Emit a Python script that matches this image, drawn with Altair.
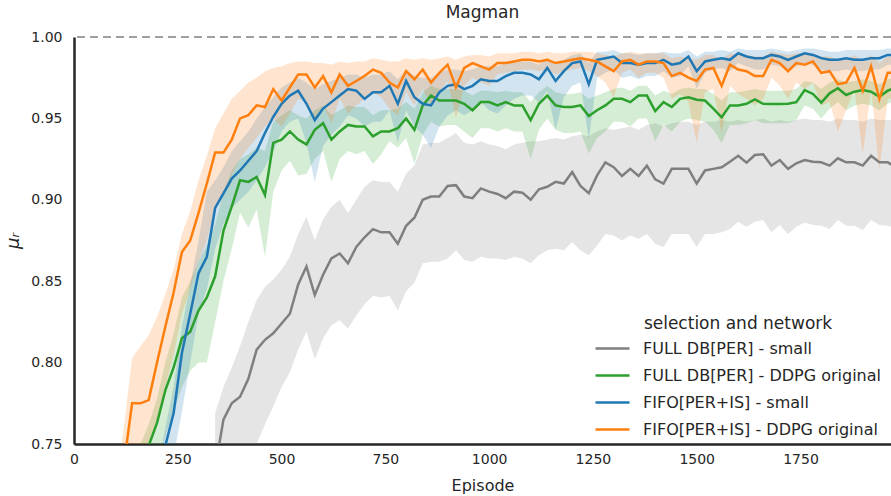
import altair as alt
import pandas as pd

# Evaluation grid (one point every 20 episodes)
EPISODES = list(range(0, 2000, 20))

SERIES_NAMES = [
    "FULL DB[PER] - small",
    "FULL DB[PER] - DDPG original",
    "FIFO[PER+IS] - small",
    "FIFO[PER+IS] - DDPG original",
]
SERIES_COLORS = ["#7f7f7f", "#2ca02c", "#1f77b4", "#ff7f0e"]

N = None

# ---- FULL DB[PER] - small (gray) ----
GRAY_MEAN = [
    N, N, N, N, N, N, N, N, N, N,
    N, N, N, N, N, N, N, 0.735, 0.765, 0.775,
    0.779, 0.790, 0.808, 0.814, 0.818, 0.824, 0.830, 0.848, 0.859, 0.8415,
    0.854, 0.864, 0.867, 0.861, 0.871, 0.877, 0.882, 0.880, 0.880, 0.873,
    0.884, 0.889, 0.900, 0.902, 0.902, 0.9085, 0.909, 0.902, 0.901, 0.907,
    0.905, 0.9036, 0.901, 0.905, 0.9044, 0.900, 0.9065, 0.908, 0.911, 0.910,
    0.917, 0.9085, 0.904, 0.915, 0.923, 0.920, 0.9146, 0.919, 0.9146, 0.921,
    0.9126, 0.910, 0.919, 0.919, 0.919, 0.910, 0.918, 0.919, 0.920, 0.9234,
    0.927, 0.9228, 0.9275, 0.928, 0.921, 0.9244, 0.919, 0.9224, 0.9244, 0.9234,
    0.923, 0.921, 0.9255, 0.923, 0.923, 0.921, 0.927, 0.923, 0.923, 0.920,
]
GRAY_LO = [
    N, N, N, N, N, N, N, N, N, N,
    N, N, N, N, N, N, N, 0.650, 0.680, 0.710,
    0.725, 0.738, 0.750, 0.762, 0.773, 0.785, 0.794, 0.808, 0.819, 0.802,
    0.815, 0.823, 0.826, 0.821, 0.829, 0.836, 0.841, 0.840, 0.841, 0.832,
    0.844, 0.849, 0.861, 0.862, 0.862, 0.864, 0.869, 0.863, 0.862, 0.865,
    0.864, 0.864, 0.863, 0.865, 0.864, 0.861, 0.866, 0.869, 0.870, 0.869,
    0.874, 0.869, 0.866, 0.872, 0.879, 0.878, 0.875, 0.878, 0.876, 0.879,
    0.873, 0.871, 0.879, 0.879, 0.879, 0.871, 0.879, 0.879, 0.880, 0.882,
    0.8865, 0.8835, 0.8865, 0.8876, 0.880, 0.8845, 0.879, 0.8835, 0.886, 0.8845,
    0.884, 0.882, 0.8876, 0.884, 0.884, 0.8814, 0.8876, 0.8845, 0.884, 0.883,
]
GRAY_HI = [
    N, N, N, N, N, N, N, N, N, N,
    N, N, N, N, N, N, N, 0.769, 0.785, 0.797,
    0.810, 0.825, 0.8385, 0.8466, 0.851, 0.857, 0.865, 0.879, 0.8896, 0.875,
    0.888, 0.8958, 0.900, 0.8917, 0.900, 0.908, 0.912, 0.911, 0.911, 0.905,
    0.916, 0.921, 0.934, 0.935, 0.935, 0.938, 0.941, 0.935, 0.934, 0.936,
    0.934, 0.933, 0.931, 0.934, 0.935, 0.936, 0.936, 0.937, 0.938, 0.937,
    0.939, 0.940, 0.939, 0.942, 0.944, 0.943, 0.944, 0.945, 0.943, 0.946,
    0.947, 0.945, 0.947, 0.948, 0.948, 0.946, 0.948, 0.948, 0.949, 0.948,
    0.949, 0.948, 0.949, 0.950, 0.948, 0.949, 0.948, 0.949, 0.950, 0.949,
    0.949, 0.948, 0.950, 0.949, 0.949, 0.948, 0.950, 0.949, 0.949, 0.949,
]

# ---- FULL DB[PER] - DDPG original (green) ----
GREEN_MEAN = [
    N, N, N, N, N, N, N, N, 0.735, 0.749,
    0.763, 0.783, 0.797, 0.815, 0.819, 0.832, 0.840, 0.853, 0.881, 0.896,
    0.912, 0.911, 0.914, 0.903, 0.935, 0.937, 0.942, 0.937, 0.934, 0.943,
    0.947, 0.937, 0.942, 0.946, 0.945, 0.945, 0.939, 0.942, 0.942, 0.944,
    0.950, 0.943, 0.958, 0.964, 0.961, 0.961, 0.961, 0.959, 0.955, 0.960,
    0.960, 0.958, 0.960, 0.958, 0.958, 0.949, 0.959, 0.964, 0.958, 0.957,
    0.957, 0.958, 0.9515, 0.955, 0.958, 0.962, 0.962, 0.960, 0.964, 0.964,
    0.9545, 0.960, 0.957, 0.962, 0.963, 0.9615, 0.961, 0.956, 0.9507, 0.958,
    0.958, 0.959, 0.9617, 0.959, 0.9588, 0.9588, 0.959, 0.960, 0.9674, 0.965,
    0.9597, 0.9654, 0.9685, 0.9644, 0.9664, 0.9674, 0.9664, 0.9633, 0.967, 0.969,
]
GREEN_LO = [
    N, N, N, N, N, N, N, N, 0.700, 0.720,
    0.735, 0.755, 0.770, 0.785, 0.795, 0.800, 0.800, 0.825, 0.850, 0.870,
    0.892, 0.883, 0.894, 0.865, 0.905, 0.918, 0.924, 0.915, 0.916, 0.925,
    0.930, 0.911, 0.925, 0.930, 0.928, 0.930, 0.922, 0.928, 0.936, 0.932,
    0.938, 0.922, 0.940, 0.948, 0.945, 0.946, 0.946, 0.942, 0.938, 0.944,
    0.944, 0.942, 0.944, 0.942, 0.942, 0.925, 0.943, 0.950, 0.943, 0.941,
    0.941, 0.942, 0.9285, 0.938, 0.942, 0.948, 0.948, 0.945, 0.950, 0.950,
    0.936, 0.946, 0.942, 0.948, 0.950, 0.949, 0.948, 0.943, 0.935, 0.946,
    0.946, 0.947, 0.949, 0.947, 0.947, 0.947, 0.947, 0.949, 0.958, 0.956,
    0.950, 0.956, 0.960, 0.955, 0.958, 0.959, 0.958, 0.955, 0.959, 0.961,
]
GREEN_HI = [
    N, N, N, N, N, N, N, N, 0.750, 0.762,
    0.778, 0.800, 0.818, 0.840, 0.850, 0.862, 0.872, 0.885, 0.905, 0.918,
    0.925, 0.928, 0.932, 0.930, 0.948, 0.952, 0.955, 0.952, 0.950, 0.955,
    0.958, 0.952, 0.955, 0.958, 0.957, 0.957, 0.952, 0.955, 0.955, 0.956,
    0.960, 0.956, 0.966, 0.970, 0.968, 0.968, 0.968, 0.967, 0.964, 0.967,
    0.967, 0.966, 0.967, 0.966, 0.966, 0.960, 0.966, 0.970, 0.966, 0.965,
    0.965, 0.966, 0.962, 0.964, 0.966, 0.968, 0.969, 0.967, 0.970, 0.970,
    0.964, 0.967, 0.965, 0.968, 0.969, 0.968, 0.968, 0.965, 0.961, 0.966,
    0.966, 0.967, 0.968, 0.967, 0.967, 0.967, 0.967, 0.968, 0.973, 0.972,
    0.968, 0.972, 0.974, 0.972, 0.973, 0.974, 0.973, 0.971, 0.974, 0.975,
]

# ---- FIFO[PER+IS] - small (blue) ----
BLUE_MEAN = [
    N, N, N, N, N, N, N, N, N, N,
    0.720, 0.749, 0.769, 0.806, 0.830, 0.855, 0.865, 0.895, 0.904, 0.913,
    0.918, 0.924, 0.930, 0.941, 0.951, 0.959, 0.964, 0.967, 0.959, 0.949,
    0.956, 0.960, 0.964, 0.968, 0.967, 0.962, 0.966, 0.966, 0.970, 0.959,
    0.973, 0.963, 0.959, 0.958, 0.966, 0.970, 0.971, 0.968, 0.970, 0.974,
    0.973, 0.973, 0.976, 0.978, 0.978, 0.977, 0.974, 0.981, 0.973, 0.979,
    0.984, 0.985, 0.971, 0.986, 0.987, 0.988, 0.984, 0.984, 0.983, 0.984,
    0.984, 0.986, 0.983, 0.984, 0.988, 0.979, 0.985, 0.986, 0.987, 0.986,
    0.990, 0.988, 0.987, 0.987, 0.989, 0.988, 0.986, 0.988, 0.990, 0.989,
    0.987, 0.986, 0.986, 0.987, 0.986, 0.986, 0.987, 0.987, 0.989, 0.989,
]
BLUE_LO = [
    N, N, N, N, N, N, N, N, N, N,
    0.700, 0.725, 0.742, 0.770, 0.800, 0.830, 0.845, 0.870, 0.885, 0.895,
    0.900, 0.905, 0.912, 0.920, 0.930, 0.942, 0.948, 0.950, 0.935, 0.911,
    0.933, 0.940, 0.945, 0.952, 0.950, 0.945, 0.948, 0.948, 0.955, 0.935,
    0.955, 0.945, 0.940, 0.932, 0.945, 0.952, 0.955, 0.952, 0.955, 0.960,
    0.955, 0.953, 0.958, 0.962, 0.964, 0.964, 0.960, 0.967, 0.943, 0.963,
    0.970, 0.972, 0.937, 0.975, 0.978, 0.980, 0.975, 0.976, 0.974, 0.976,
    0.976, 0.979, 0.975, 0.976, 0.982, 0.968, 0.978, 0.980, 0.981, 0.979,
    0.984, 0.982, 0.980, 0.980, 0.983, 0.982, 0.979, 0.982, 0.984, 0.983,
    0.980, 0.979, 0.979, 0.980, 0.979, 0.979, 0.980, 0.980, 0.983, 0.983,
]
BLUE_HI = [
    N, N, N, N, N, N, N, N, N, N,
    0.735, 0.760, 0.785, 0.822, 0.848, 0.875, 0.905, 0.912, 0.920, 0.930,
    0.936, 0.942, 0.950, 0.957, 0.963, 0.969, 0.972, 0.975, 0.972, 0.968,
    0.971, 0.973, 0.975, 0.977, 0.977, 0.975, 0.977, 0.977, 0.979, 0.974,
    0.980, 0.976, 0.975, 0.975, 0.978, 0.980, 0.980, 0.979, 0.980, 0.982,
    0.982, 0.982, 0.984, 0.985, 0.985, 0.985, 0.983, 0.987, 0.983, 0.986,
    0.989, 0.990, 0.984, 0.991, 0.991, 0.992, 0.990, 0.990, 0.989, 0.990,
    0.990, 0.991, 0.990, 0.990, 0.992, 0.988, 0.991, 0.991, 0.992, 0.991,
    0.993, 0.992, 0.992, 0.992, 0.993, 0.992, 0.991, 0.992, 0.993, 0.993,
    0.992, 0.991, 0.991, 0.992, 0.992, 0.992, 0.992, 0.992, 0.993, 0.993,
]

# ---- FIFO[PER+IS] - DDPG original (orange) ----
ORANGE_MEAN = [
    N, N, N, N, N, 0.700, 0.737, 0.775, 0.775, 0.777,
    0.800, 0.822, 0.843, 0.868, 0.875, 0.892, 0.910, 0.929, 0.929, 0.937,
    0.950, 0.952, 0.958, 0.957, 0.968, 0.961, 0.969, 0.977, 0.977, 0.969,
    0.976, 0.966, 0.977, 0.970, 0.973, 0.976, 0.980, 0.978, 0.972, 0.969,
    0.979, 0.974, 0.980, 0.972, 0.978, 0.983, 0.969, 0.981, 0.984, 0.982,
    0.980, 0.984, 0.984, 0.985, 0.986, 0.986, 0.985, 0.986, 0.984, 0.985,
    0.986, 0.987, 0.986, 0.985, 0.982, 0.979, 0.985, 0.986, 0.983, 0.985,
    0.985, 0.984, 0.976, 0.978, 0.975, 0.973, 0.980, 0.981, 0.970, 0.983,
    0.980, 0.979, 0.976, 0.976, 0.986, 0.984, 0.979, 0.984, 0.983, 0.985,
    0.978, 0.979, 0.971, 0.972, 0.981, 0.967, 0.982, 0.962, 0.978, 0.978,
]
ORANGE_LO = [
    N, N, N, N, N, 0.660, 0.700, 0.720, 0.735, 0.750,
    0.765, 0.785, 0.805, 0.830, 0.845, 0.862, 0.875, 0.895, 0.905, 0.915,
    0.925, 0.932, 0.938, 0.945, 0.950, 0.945, 0.953, 0.962, 0.960, 0.948,
    0.958, 0.947, 0.962, 0.953, 0.958, 0.962, 0.966, 0.963, 0.956, 0.952,
    0.966, 0.958, 0.968, 0.958, 0.966, 0.973, 0.950, 0.970, 0.975, 0.972,
    0.970, 0.977, 0.978, 0.979, 0.980, 0.980, 0.979, 0.980, 0.977, 0.979,
    0.980, 0.981, 0.979, 0.976, 0.972, 0.963, 0.978, 0.980, 0.975, 0.978,
    0.978, 0.975, 0.962, 0.965, 0.960, 0.935, 0.966, 0.968, 0.941, 0.970,
    0.965, 0.962, 0.958, 0.962, 0.975, 0.970, 0.962, 0.972, 0.968, 0.972,
    0.958, 0.960, 0.942, 0.955, 0.968, 0.928, 0.968, 0.918, 0.962, 0.962,
]
ORANGE_HI = [
    N, N, N, N, N, 0.725, 0.760, 0.803, 0.810, 0.817,
    0.828, 0.842, 0.857, 0.879, 0.893, 0.912, 0.927, 0.944, 0.953, 0.962,
    0.967, 0.972, 0.975, 0.979, 0.981, 0.982, 0.984, 0.985, 0.985, 0.984,
    0.984, 0.983, 0.985, 0.984, 0.985, 0.985, 0.987, 0.986, 0.985, 0.985,
    0.987, 0.986, 0.987, 0.986, 0.987, 0.988, 0.986, 0.988, 0.989, 0.989,
    0.988, 0.990, 0.990, 0.990, 0.991, 0.991, 0.990, 0.991, 0.990, 0.990,
    0.991, 0.991, 0.991, 0.990, 0.989, 0.988, 0.990, 0.991, 0.990, 0.990,
    0.990, 0.990, 0.987, 0.988, 0.987, 0.986, 0.989, 0.989, 0.986, 0.990,
    0.989, 0.989, 0.988, 0.988, 0.991, 0.990, 0.989, 0.990, 0.990, 0.990,
    0.988, 0.988, 0.986, 0.986, 0.989, 0.985, 0.989, 0.984, 0.988, 0.988,
]

X_TICKS = [0, 250, 500, 750, 1000, 1250, 1500, 1750]
Y_TICKS = [0.75, 0.80, 0.85, 0.90, 0.95, 1.00]

SERIES = [
    (SERIES_NAMES[0], GRAY_MEAN, GRAY_LO, GRAY_HI),
    (SERIES_NAMES[1], GREEN_MEAN, GREEN_LO, GREEN_HI),
    (SERIES_NAMES[2], BLUE_MEAN, BLUE_LO, BLUE_HI),
    (SERIES_NAMES[3], ORANGE_MEAN, ORANGE_LO, ORANGE_HI),
]

rows = []
for order, (name, mean, lo, hi) in enumerate(SERIES):
    for ep, m, l, h in zip(EPISODES, mean, lo, hi):
        if m is None:
            continue
        rows.append({"series": name, "order": order, "episode": ep,
                     "mean": m, "lo": l, "hi": h})
df = pd.DataFrame(rows)

FONT = "DejaVu Sans"
INK = "#262626"

x_enc = alt.X(
    "episode:Q",
    scale=alt.Scale(domain=[0, 1968], nice=False, zero=False),
    axis=alt.Axis(values=X_TICKS, title="Episode", grid=False, ticks=False,
                  labelPadding=8, titlePadding=11, format="d", labelFlush=False),
)
y_scale = alt.Scale(domain=[0.75, 1.0], nice=False, zero=False)

bands = alt.Chart(df).mark_area(opacity=0.2, clip=True, interpolate="linear").encode(
    x=x_enc,
    y=alt.Y("lo:Q", scale=y_scale,
            axis=alt.Axis(values=Y_TICKS, format=".2f", title="μᵣ", grid=False,
                          ticks=False, labelPadding=12, titlePadding=8,
                          titleFontStyle="italic", titleFontSize=18,
                          labelFlush=False)),
    y2="hi:Q",
    fill=alt.Fill("series:N", scale=alt.Scale(domain=SERIES_NAMES, range=SERIES_COLORS),
                  legend=None),
    order=alt.Order("order:Q"),
)

lines = alt.Chart(df).mark_line(strokeWidth=2.5, clip=True).encode(
    x=x_enc,
    y=alt.Y("mean:Q", scale=y_scale),
    color=alt.Color(
        "series:N",
        scale=alt.Scale(domain=SERIES_NAMES, range=SERIES_COLORS),
        legend=alt.Legend(
            title="selection and network",
            orient="none", legendX=520, legendY=279,
            symbolType="stroke", symbolSize=1156, symbolStrokeWidth=2.5,
            titleAnchor="middle", titleFontSize=17, titleFontWeight="normal",
            titleColor=INK, titlePadding=-3, titleLimit=0,
            labelFontSize=16, labelColor=INK, labelOffset=12, labelLimit=0,
            rowPadding=-18, padding=0, symbolOffset=0,
        ),
    ),
)

ceiling = alt.Chart(pd.DataFrame({"v": [1.0]})).mark_rule(
    color="#808080", strokeWidth=1.6, strokeDash=[8, 5]
).encode(y=alt.Y("v:Q", scale=y_scale))

chart = (
    alt.layer(bands, ceiling, lines)
    .resolve_scale(fill="independent")
    .properties(
        width=817, height=407,
        title=alt.TitleParams("Magman", fontSize=17, font=FONT, fontWeight="normal",
                              color=INK, offset=8),
        autosize=alt.AutoSizeParams(type="none"),
        padding={"left": 74, "top": 37, "right": 0, "bottom": 52},
    )
    .configure_view(stroke=None)
    .configure_axis(
        labelFont=FONT, titleFont=FONT, labelFontSize=14, titleFontSize=16,
        labelColor=INK, titleColor=INK, titleFontWeight="normal",
        domainColor=INK, domainWidth=2.5,
    )
    .configure_legend(labelFont=FONT, titleFont=FONT)
)

chart.save("out.html", embed_options={"renderer": "svg", "actions": False})
